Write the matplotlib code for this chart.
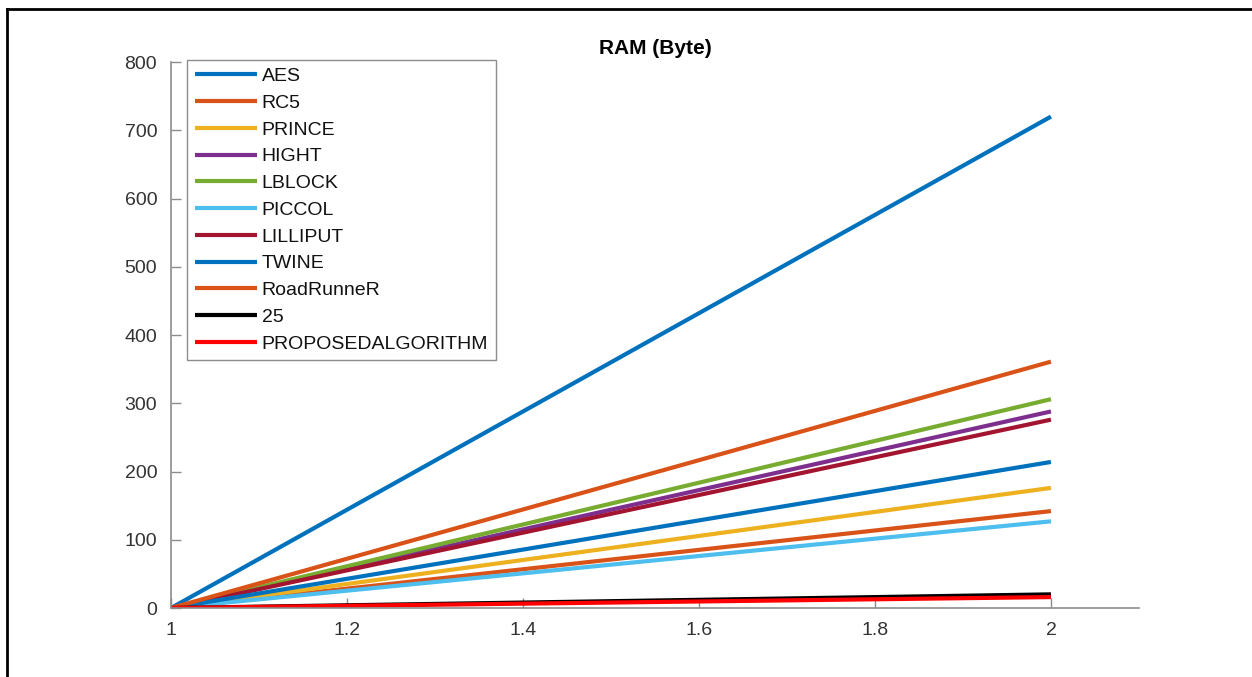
import matplotlib.pyplot as plt
from matplotlib.lines import Line2D

plt.rcParams['font.family'] = ['Liberation Sans', 'DejaVu Sans']

# 데이터: x=1 에서 0, x=2 에서 각 알고리즘 RAM 값
x = [1, 2]
names = ['AES', 'RC5', 'PRINCE', 'HIGHT', 'LBLOCK', 'PICCOL', 'LILLIPUT',
         'TWINE', 'RoadRunneR', '25', 'PROPOSEDALGORITHM']
start_vals = [0, 0, 0, 0, 0, 0, 0, 0, 0, 0, 0]
end_vals = [720, 142, 176, 288, 306, 127, 276, 214, 361, 20, 16]
colors = ['#0072BD', '#D95319', '#EDB120', '#7E2F8E', '#77AC30', '#4DBEEE',
          '#A2142F', '#0072BD', '#D95319', '#000000', '#FF0000']

x_ticks = [1, 1.2, 1.4, 1.6, 1.8, 2]
x_labels = ['1', '1.2', '1.4', '1.6', '1.8', '2']
y_ticks = [0, 100, 200, 300, 400, 500, 600, 700, 800]

fig = plt.figure(figsize=(12.52, 6.77), dpi=100)
ax = fig.add_axes([0.1366, 0.1019, 0.7731, 0.8065])

for n, s, e, c in zip(names, start_vals, end_vals, colors):
    ax.plot(x, [s, e], color=c, linewidth=3, label=n, solid_capstyle='butt')

ax.set_xlim(1, 2.1)
ax.set_ylim(0, 800)
ax.set_xticks(x_ticks)
ax.set_xticklabels(x_labels)
ax.set_yticks(y_ticks)
ax.tick_params(direction='in', length=7, width=1, colors='#8c8c8c',
               labelcolor='#333333', labelsize=14, pad=10)

for side in ['top', 'right']:
    ax.spines[side].set_visible(False)
for side in ['left', 'bottom']:
    ax.spines[side].set_color('#8c8c8c')
    ax.spines[side].set_linewidth(1.2)

ax.set_title('RAM (Byte)', fontsize=15, fontweight='bold', pad=6)

leg = ax.legend(loc='upper left', bbox_to_anchor=(0.0165, 1.004),
                borderaxespad=0, fontsize=14, handlelength=3.2,
                handletextpad=0.25, labelspacing=0.47, borderpad=0.4,
                fancybox=False, framealpha=1, edgecolor='#8c8c8c')
leg.get_frame().set_linewidth(1.0)
for t in leg.get_texts():
    t.set_color('#111111')

# 테두리 (왼쪽, 위)
fig.add_artist(Line2D([0.0056, 0.0056], [0, 0.987], color='black', linewidth=2,
                      transform=fig.transFigure))
fig.add_artist(Line2D([0.0056, 1], [0.987, 0.987], color='black', linewidth=2,
                      transform=fig.transFigure))

fig.savefig('out.png', dpi=100)
